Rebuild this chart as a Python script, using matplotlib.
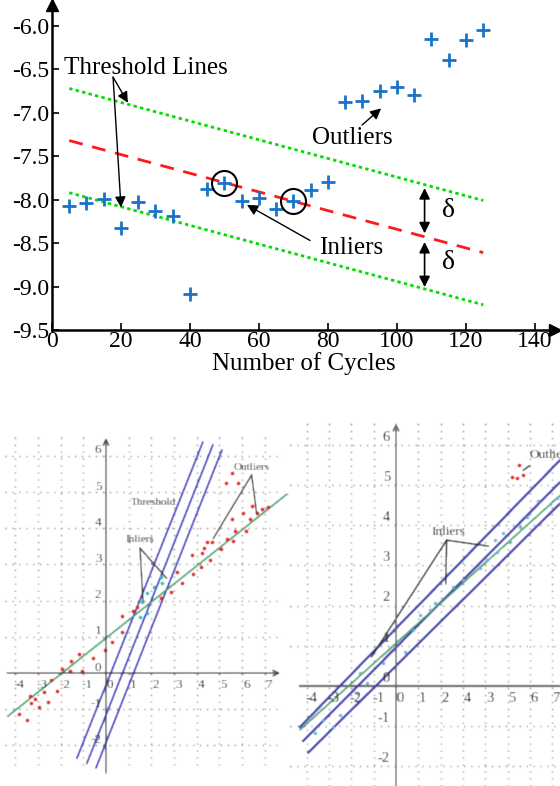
import numpy as np
import matplotlib
matplotlib.use("Agg")
import matplotlib.pyplot as plt

plt.rcParams['font.family'] = ['Liberation Serif', 'DejaVu Serif']
plt.rcParams['axes.unicode_minus'] = False

# --- top: capacity fade vs cycle number, RANSAC line ---
cycles = np.arange(5, 130, 5)
values = [-8.07, -8.04, -7.99, -8.33, -8.03, -8.13, -8.19, -9.09, -7.88, -7.81,
          -8.01, -7.98, -8.11, -8.02, -7.89, -7.80, -6.88, -6.87, -6.75, -6.70,
          -6.79, -6.15, -6.39, -6.16, -6.05]
circled = [50, 70]
fit_x = [5, 125]
fit_y = [-7.32, -8.61]
delta = 0.6
x_ticks = [0, 20, 40, 60, 80, 100, 120, 140]
y_ticks = [-9.5, -9.0, -8.5, -8.0, -7.5, -7.0, -6.5, -6.0]

# --- bottom left: least squares vs threshold band ---
ll_red_x = [5.56, 5.29, 5.80, 6.45, 6.05, 6.86, 6.64, 7.12, 5.56, 6.34, 5.68, 6.15,
            4.46, 4.66, 5.32, 5.61, 4.32, 4.21, 3.79, 4.58, 5.08, 4.19, 3.85, 3.11,
            3.35, 2.85, 2.44, 1.38, 1.17, 0.69, 0.72, 0.28, -0.04, -0.56, -1.17,
            -1.56, -1.59, -1.07, -1.95, -2.42, -2.17, -2.72, -2.54, -2.95, -3.11,
            -3.32, -3.35, -3.82, -3.50]
ll_red_y = [5.52, 5.24, 5.24, 4.61, 4.43, 4.52, 4.41, 4.59, 4.26, 4.25, 3.92, 3.92,
            3.63, 3.63, 3.70, 3.66, 3.46, 3.32, 3.26, 3.12, 3.42, 2.93, 2.74, 2.80,
            2.48, 2.25, 2.06, 1.83, 1.71, 1.57, 1.14, 0.85, 0.64, 0.41, 0.52,
            0.33, 0.06, 0.06, 0.10, -0.19, -0.49, -0.51, -0.79, -0.93, -0.73,
            -0.82, -0.64, -1.12, -1.31]
ll_in_x = [2.42, 2.48, 2.11, 1.79, 1.57, 1.79, 1.50]
ll_in_y = [2.66, 2.48, 2.38, 2.20, 1.97, 1.65, 1.54]
ll_fit = [(-4.32, -1.19), (7.97, 4.94)]
ll_thr_x0 = [-1.28, -0.84, -0.44]
ll_thr_y0 = [-2.35, -2.49, -2.62]
ll_thr_x1 = [4.27, 4.71, 5.11]
ll_thr_y1 = [6.38, 6.30, 6.16]

# --- bottom right: RANSAC band ---
rr_red_x = [5.19, 5.41, 5.53, 5.71]
rr_red_y = [5.21, 5.18, 5.51, 5.24]
rr_in_x = [6.38, 5.56, 5.11, 4.44, 4.51, 4.07, 3.02, 2.57, 1.75, 1.52, 5.86, 6.91,
           7.20, 4.81, 3.77, 0.78, 1.08, 0.40, -0.57, -1.61, -2.81, -3.63, -3.26,
           -2.51, -1.76, -1.31]
rr_in_y = [4.60, 3.96, 3.59, 3.63, 3.34, 3.13, 2.64, 2.47, 2.07, 1.89, 4.21, 4.54,
           4.67, 3.80, 2.93, 1.39, 1.77, 0.85, 0.56, 0.32, -1.01, -1.18, -0.85,
           -0.72, -0.18, 0.07]
rr_fit = [(-4.30, -1.09), (7.35, 4.74)]
rr_thr_x0 = [-4.30, -4.16, -3.93]
rr_thr_y0 = [-1.02, -1.37, -1.66]
rr_thr_x1 = [7.35, 7.35, 7.35]
rr_thr_y1 = [5.62, 5.07, 4.54]
rr_xlabels = ['-4', '-3', '-2', '-1', '0', '1', '2', '4', '3', '5', '6', '7']


def soften(img, dpi, sigma=0.65):
    # small gaussian blur, used as an agg_filter
    pad = 3
    k = np.exp(-0.5 * (np.arange(-pad, pad + 1) / sigma) ** 2)
    k /= k.sum()
    a = np.pad(img, ((pad, pad), (pad, pad), (0, 0)))
    a = sum(w * np.roll(a, i - pad, axis=0) for i, w in enumerate(k))
    a = sum(w * np.roll(a, i - pad, axis=1) for i, w in enumerate(k))
    return a, -pad, -pad


fig = plt.figure(figsize=(5.6, 7.86), dpi=100)

# ================= top panel =================
ax = fig.add_axes([52 / 560, 456 / 786, 503 / 560, 325 / 786])
ax.set_xlim(0, 145.8)
ax.set_ylim(-9.5, -5.76)
for s in ['top', 'right']:
    ax.spines[s].set_visible(False)
for s in ['left', 'bottom']:
    ax.spines[s].set_linewidth(1.8)
ax.plot(1, 0, '>k', ms=8, transform=ax.transAxes, clip_on=False)
ax.plot(0, 1, '^k', ms=8, transform=ax.transAxes, clip_on=False)
ax.set_xticks(x_ticks)
ax.set_yticks(y_ticks)
ax.set_yticklabels(['%.1f' % v for v in y_ticks])
ax.tick_params(direction='in', length=5, width=1.2, labelsize=17, pad=2)
ax.tick_params(axis='x', pad=1)
ax.set_xlabel('Number of Cycles', fontsize=18, labelpad=0)

fx = np.array(fit_x)
fy = np.array(fit_y)
ax.plot(fx, fy + delta, color='#00dd00', lw=2, ls=(0, (1.2, 1.2)))
ax.plot(fx, fy - delta, color='#00dd00', lw=2, ls=(0, (1.2, 1.2)))
ax.plot(fx, fy, color='#ff1a1a', lw=2, ls=(0, (5, 3.5)))
ax.plot(cycles, values, '+', color='#1a73c8', ms=10, mew=2)
cv = [values[list(cycles).index(c)] for c in circled]
ax.plot(circled, cv, 'o', mfc='none', mec='k', ms=18, mew=1.5)

arr = dict(arrowstyle='-|>', color='k', lw=1, mutation_scale=16, shrinkA=0, shrinkB=0)
ax.text(3.5, -6.49, 'Threshold Lines', fontsize=18, ha='left', va='center')
ax.annotate('', xy=(22.0, -6.885), xytext=(17.7, -6.59), arrowprops=arr)
ax.annotate('', xy=(20.0, -8.09), xytext=(17.7, -6.59), arrowprops=arr)
ax.text(87.0, -7.29, 'Outliers', fontsize=18, ha='center', va='center')
ax.annotate('', xy=(95.4, -6.95), xytext=(89.9, -7.14), arrowprops=arr)
ax.text(86.7, -8.56, 'Inliers', fontsize=18, ha='center', va='center')
ax.annotate('', xy=(56.5, -8.06), xytext=(74.8, -8.47), arrowprops=arr)

slope = (fy[1] - fy[0]) / (fx[1] - fx[0])
xd = 108
yc = fy[0] + slope * (xd - fx[0])
darr = dict(arrowstyle='<|-|>', color='k', lw=1.2, mutation_scale=16, shrinkA=0, shrinkB=0)
ax.annotate('', xy=(xd, yc + delta - 0.04), xytext=(xd, yc + 0.04), arrowprops=darr)
ax.annotate('', xy=(xd, yc - 0.06), xytext=(xd, yc - delta + 0.02), arrowprops=darr)
ax.text(115, yc + delta / 2, 'δ', fontsize=20, ha='center', va='center')
ax.text(115, yc - delta / 2, 'δ', fontsize=20, ha='center', va='center')

dot = (0, (1, 4))
gcol = '#6f6f6f'
lc = '#222222'

# ================= bottom left =================
bl = fig.add_axes([0, 0, 290 / 560, 366 / 786])
bl.set_xlim(-4.67, 8.11)
bl.set_ylim(-3.12, 6.99)
bl.axis('off')
for k in range(-4, 8):
    if k != 0:
        bl.plot([k, k], [-2.54, 6.63], color=gcol, lw=1.0, ls=dot)
for k in range(-2, 7):
    if k != 0:
        bl.plot([-4.45, 7.8], [k, k], color=gcol, lw=1.0, ls=dot)
axarr = dict(arrowstyle='->', color='#333333', lw=1.0, shrinkA=0, shrinkB=0)
bl.annotate('', xy=(7.67, 0), xytext=(-4.36, 0), arrowprops=axarr)
bl.annotate('', xy=(0, 6.49), xytext=(0, -2.76), arrowprops=axarr)
for k in range(-4, 8):
    bl.text(k + 0.18, -0.33, str(k), fontsize=9.5, color=lc, ha='center', va='center')
for k in range(-2, 7):
    bl.text(-0.2, k + 0.15, str(k), fontsize=9.5, color=lc, ha='right', va='center')

for x0, y0, x1, y1 in zip(ll_thr_x0, ll_thr_y0, ll_thr_x1, ll_thr_y1):
    bl.plot([x0, x1], [y0, y1], color='#2e2eb8', lw=1.2)
bl.plot([ll_fit[0][0], ll_fit[1][0]], [ll_fit[0][1], ll_fit[1][1]], color='#3f9a66', lw=1.2)
bl.plot(ll_red_x, ll_red_y, 'o', color='#e02020', ms=2.6, mew=0)
bl.plot(ll_in_x, ll_in_y, 'o', color='#30b8b8', ms=2.6, mew=0)

bl.text(2.1, 4.72, 'Threshold', fontsize=8, color=lc, ha='center', va='center')
bl.text(1.5, 3.7, 'Inliers', fontsize=8, color=lc, ha='center', va='center')
bl.plot([1.5, 1.63], [3.45, 2.0], color=lc, lw=0.9)
bl.plot([1.5, 2.67], [3.45, 2.62], color=lc, lw=0.9)
bl.text(6.43, 5.69, 'Outliers', fontsize=8, color=lc, ha='center', va='center')
bl.plot([6.42, 4.73], [5.47, 3.72], color=lc, lw=0.9)
bl.plot([6.42, 6.64], [5.47, 4.41], color=lc, lw=0.9)
bl.set_agg_filter(soften)

# ================= bottom right =================
br = fig.add_axes([290 / 560, 0, 270 / 560, 366 / 786])
br.set_xlim(-4.75, 7.35)
br.set_ylim(-2.49, 6.62)
br.axis('off')
for k in range(-4, 8):
    if k != 0:
        br.plot([k, k], [-2.49, 6.62], color=gcol, lw=1.0, ls=dot)
for k in range(-2, 7):
    if k != 0:
        br.plot([-4.75, 7.35], [k, k], color=gcol, lw=1.0, ls=dot)
br.plot([-4.3, 7.35], [0, 0], color='#6a6a6a', lw=1.5)
br.annotate('', xy=(0, 6.54), xytext=(0, -2.49),
            arrowprops=dict(arrowstyle='->', color='#6a6a6a', lw=1.3, shrinkA=0, shrinkB=0))
for k, lab in zip(range(-4, 8), rr_xlabels):
    br.text(k + 0.2, -0.3, lab, fontsize=10.5, color=lc, ha='center', va='center')
for k in range(-2, 7):
    br.text(-0.27, k + 0.19, str(k), fontsize=10.5, color=lc, ha='right', va='center')

for x0, y0, x1, y1 in zip(rr_thr_x0, rr_thr_y0, rr_thr_x1, rr_thr_y1):
    br.plot([x0, x1], [y0, y1], color='#3a3aa8', lw=1.6)
br.plot([rr_fit[0][0], rr_fit[1][0]], [rr_fit[0][1], rr_fit[1][1]], color='#3f9a66', lw=1.2)
br.plot(rr_in_x, rr_in_y, 'o', color='#6aaede', ms=2.4, mew=0)
br.plot(rr_red_x, rr_red_y, 'o', color='#e02020', ms=2.6, mew=0)

br.text(2.33, 3.84, 'Inliers', fontsize=9.5, color=lc, ha='center', va='center')
br.plot([2.27, -1.09], [3.63, 0.73], color=lc, lw=1.0)
br.plot([2.27, 2.23], [3.63, 2.54], color=lc, lw=1.0)
br.plot([2.27, 4.14], [3.63, 3.48], color=lc, lw=1.0)
br.text(6.0, 5.75, 'Outliers', fontsize=9.5, color=lc, ha='left', va='center', clip_on=True)
br.plot([5.71, 5.98], [5.37, 5.48], color=lc, lw=1.0)
br.set_agg_filter(soften)

fig.savefig('out.png', dpi=100)
